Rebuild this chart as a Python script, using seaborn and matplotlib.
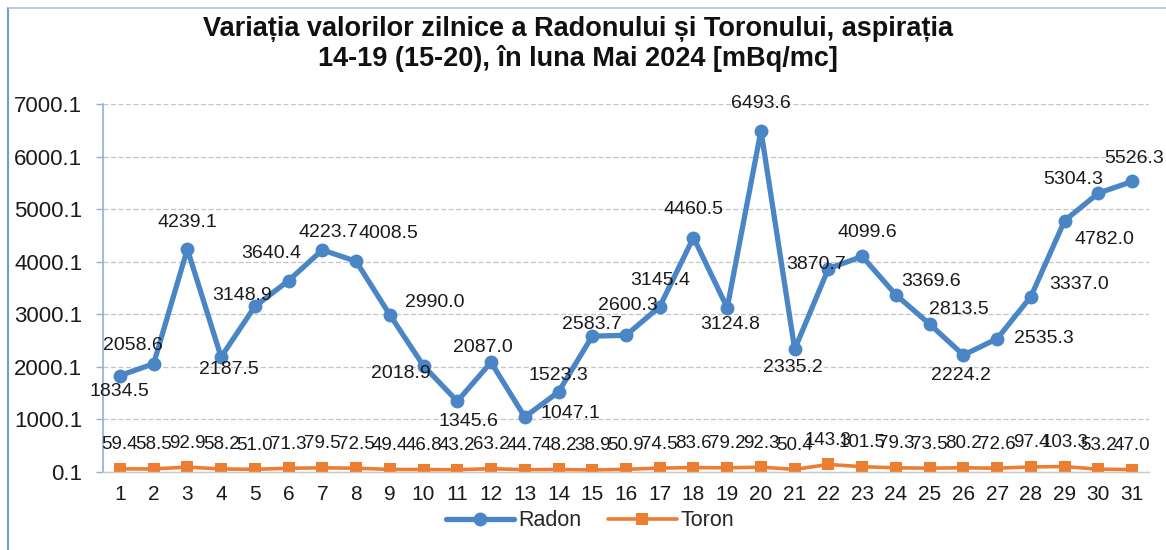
import matplotlib
matplotlib.use("Agg")
import matplotlib.pyplot as plt
from matplotlib.lines import Line2D
import numpy as np
import pandas as pd
import seaborn as sns

# ---- data ----
days = list(range(1, 32))
radon = [1834.5, 2058.6, 4239.1, 2187.5, 3148.9, 3640.4, 4223.7, 4008.5, 2990.0, 2018.9,
         1345.6, 2087.0, 1047.1, 1523.3, 2583.7, 2600.3, 3145.4, 4460.5, 3124.8, 6493.6,
         2335.2, 3870.7, 4099.6, 3369.6, 2813.5, 2224.2, 2535.3, 3337.0, 4782.0, 5304.3,
         5526.3]
toron = [59.4, 58.5, 92.9, 58.2, 51.0, 71.3, 79.5, 72.5, 49.4, 46.8,
         43.2, 63.2, 44.7, 48.2, 38.9, 50.9, 74.5, 83.6, 79.2, 92.3,
         50.4, 143.3, 101.5, 79.3, 73.5, 80.2, 72.6, 97.4, 103.3, 53.2,
         47.0]
y_ticks = [0.1, 1000.1, 2000.1, 3000.1, 4000.1, 5000.1, 6000.1, 7000.1]
title = "Variația valorilor zilnice a Radonului și Toronului, aspirația\n14-19 (15-20), în luna Mai 2024 [mBq/mc]"

# label offsets for Radon values, in pixels (dx right, dy down) as placed in the source chart
radon_offsets = [(0, 16), (-21, -18), (0, -27), (8, 12), (-13, -11), (-17, -27), (6, -17),
                 (32, -28), (45, -12), (-23, 8), (11, 20), (-8, -15), (46, -3), (0, -16),
                 (0, -12), (2, -30), (0, -26), (0, -28), (3, 17), (0, -27), (-2, 18),
                 (-12, -4), (5, -24), (35, -13), (29, -15), (-2, 20), (47, 0), (48, -12),
                 (40, 19), (-25, -14), (2, -23)]

df = pd.DataFrame({"day": days, "Radon": radon, "Toron": toron})

sns.set_theme(style="white")
plt.rcParams["font.family"] = ["Liberation Sans", "DejaVu Sans"]

blue = "#4a86c5"
orange = "#ed7d31"

fig = plt.figure(figsize=(11.66, 5.5), dpi=100)
ax = fig.add_axes([103 / 1166, 1 - 472 / 550, (1149 - 103) / 1166, (472 - 104) / 550])

sns.lineplot(data=df, x="day", y="Radon", ax=ax, color=blue, linewidth=3.8,
             marker="o", markersize=10, markeredgewidth=0, label="Radon", legend=False)
sns.lineplot(data=df, x="day", y="Toron", ax=ax, color=orange, linewidth=2.6,
             marker="s", markersize=9, markeredgewidth=0, label="Toron", legend=False)

for d, v, (dx, dy) in zip(days, radon, radon_offsets):
    ax.annotate(f"{v:.1f}", (d, v), xytext=(dx, -dy), textcoords="offset pixels",
                ha="center", va="center", fontsize=14, color="#1a1a1a")
for d, v in zip(days, toron):
    ax.annotate(f"{v:.1f}", (d, v), xytext=(0, 24), textcoords="offset pixels",
                ha="center", va="center", fontsize=13.5, color="#1a1a1a")

ax.set_xlim(0.5, 31.5)
ax.set_ylim(y_ticks[0], y_ticks[-1])
ax.set_yticks(y_ticks)
ax.set_yticklabels([f"{t:.1f}" for t in y_ticks], fontsize=16, color="#1a1a1a")
ax.set_xticks(days)
ax.set_xticklabels([str(d) for d in days], fontsize=15, color="#1a1a1a")
ax.set_xticks(np.arange(0.5, 32, 1), minor=True)
ax.tick_params(axis="x", which="major", length=0, pad=9)
ax.tick_params(axis="x", which="minor", length=5, color="#c8c8c8", width=1, direction="out")
ax.tick_params(axis="y", length=5, color="#8fb0d8", width=1, pad=10, direction="out", left=True)
ax.set_xlabel("")
ax.set_ylabel("")
ax.yaxis.grid(True, color="#c4c4c4", linestyle=(0, (4, 2)), linewidth=0.9)
ax.set_axisbelow(True)
for s in ["top", "right"]:
    ax.spines[s].set_visible(False)
ax.spines["left"].set_color("#8fb0d8")
ax.spines["left"].set_linewidth(1.2)
ax.spines["bottom"].set_color("#c8c8c8")
ax.spines["bottom"].set_linewidth(1.0)

fig.text(0.496, 1 - 16 / 550, title, ha="center", va="top", fontsize=19.5, fontweight="bold",
         family=["Liberation Sans Narrow", "Liberation Sans", "DejaVu Sans"],
         linespacing=1.15, color="#111111")

handles = [Line2D([], [], color=blue, linewidth=3.8, marker="o", markersize=10, markeredgewidth=0),
           Line2D([], [], color=orange, linewidth=2.6, marker="s", markersize=9, markeredgewidth=0)]
fig.legend(handles, ["Radon", "Toron"], loc="center", bbox_to_anchor=(590 / 1166, 1 - 521 / 550),
           ncol=2, frameon=False, fontsize=15.5, handlelength=3.2, columnspacing=1.2,
           handletextpad=0.2)

# outer chart frame (left and top edges visible in the source)
fig.add_artist(Line2D([8 / 1166, 8 / 1166], [0, 1 - 8 / 550], color="#6f9bd1", linewidth=1.5))
fig.add_artist(Line2D([8 / 1166, 1], [1 - 8 / 550, 1 - 8 / 550], color="#a9c2e0", linewidth=1.2))

fig.savefig("out.png", dpi=100)
